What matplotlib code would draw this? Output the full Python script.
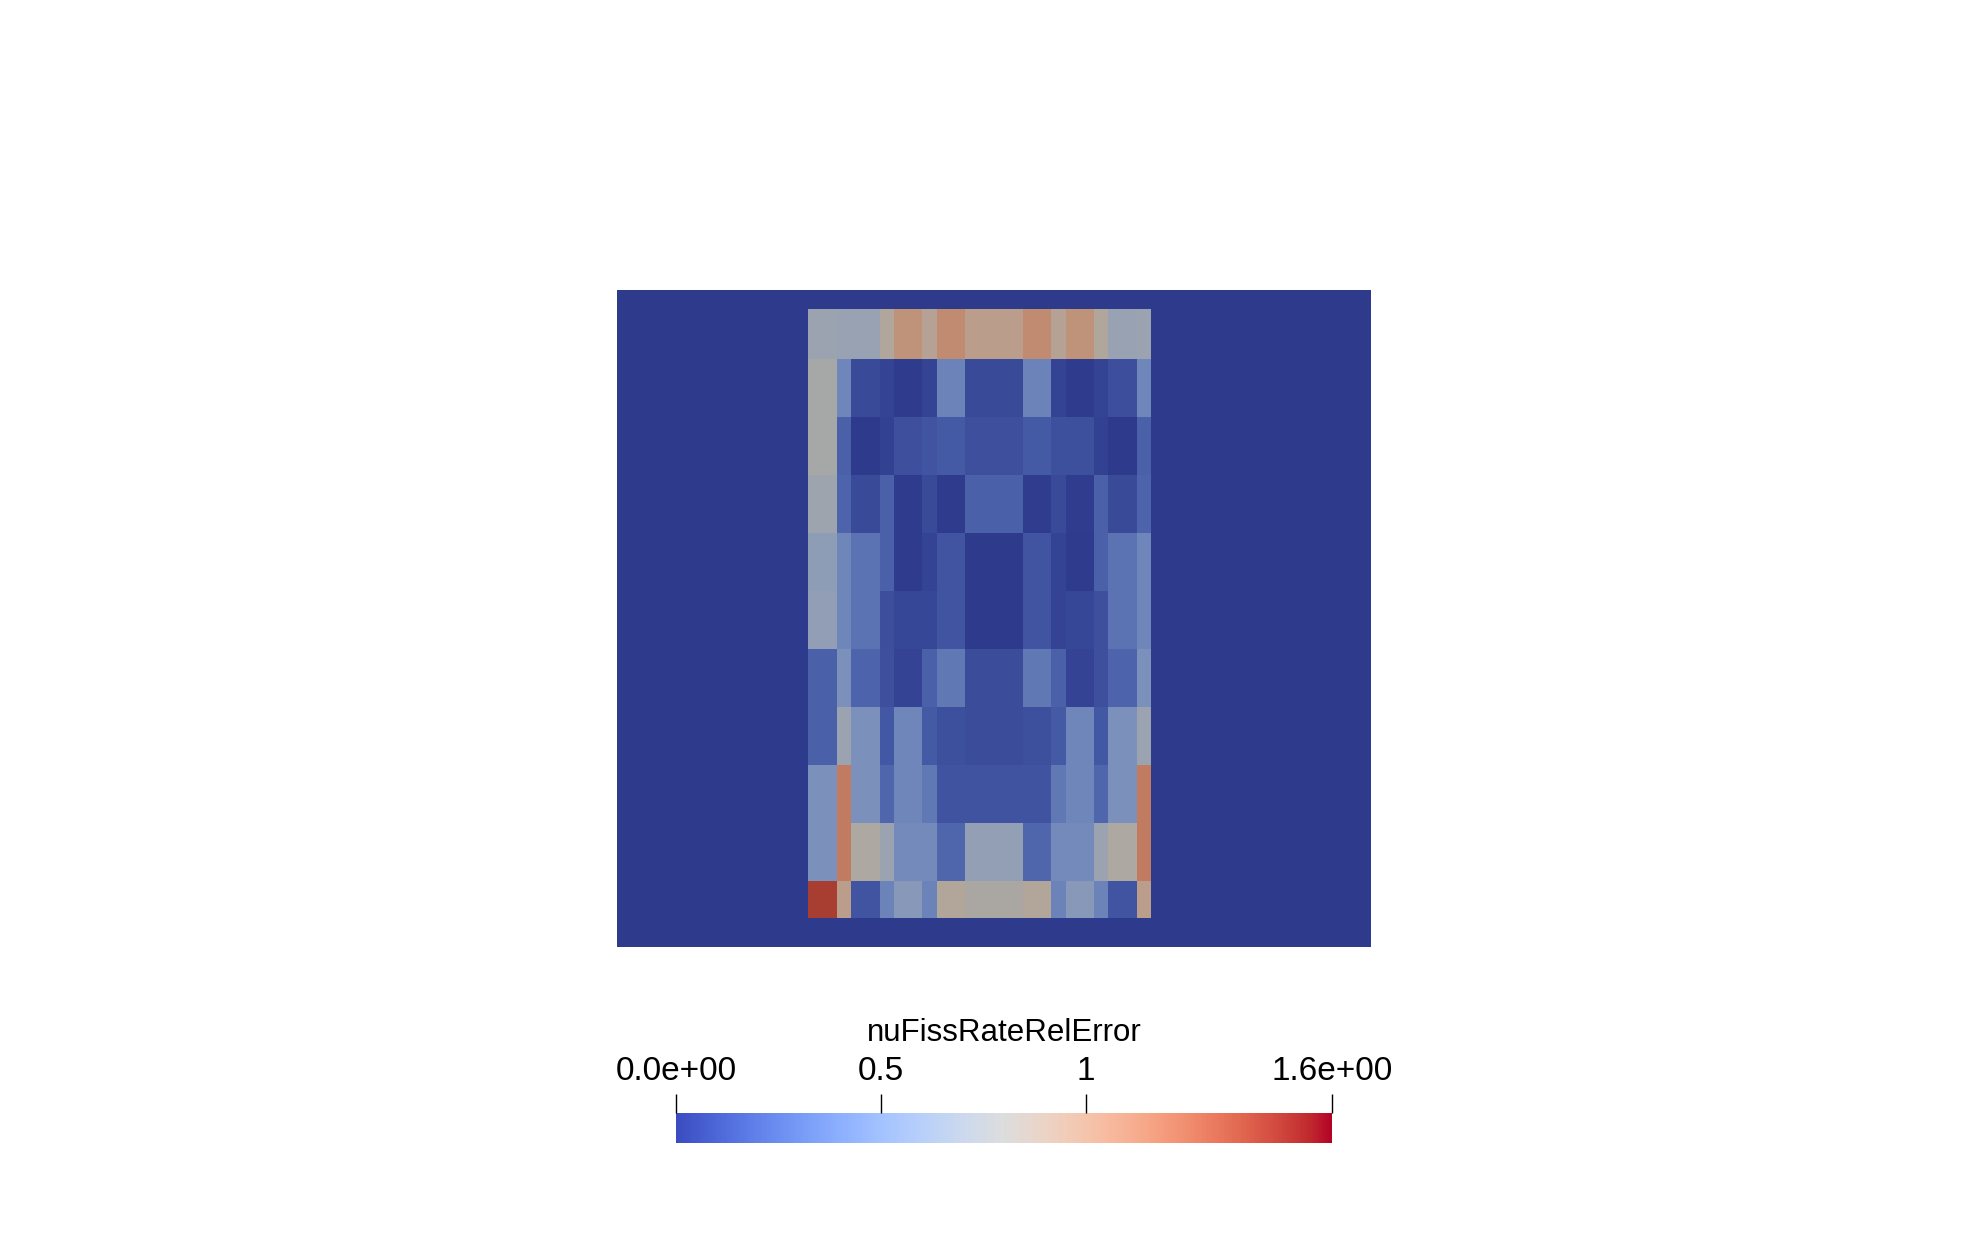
import numpy as np
import matplotlib
matplotlib.use("Agg")
import matplotlib.pyplot as plt
from matplotlib.colors import ListedColormap, Normalize
from matplotlib.cm import ScalarMappable

# ---------------- data ----------------
field_name = "nuFissRateRelError"
vmin, vmax = 0.0, 1.6
cbar_ticks = [0.0, 0.5, 1.0, 1.6]
cbar_labels = ["0.0e+00", "0.5", "1", "1.6e+00"]

# domain (model units) and core mesh edges
domain_x = [0.0, 754.0]
domain_y = [0.0, 657.0]
outer_value = 0.0
x_edges = [191, 220, 234, 263, 277, 305, 320, 348, 406, 434, 449, 477, 491, 520, 534]
y_edges = [19, 69, 127, 185, 243, 301, 359, 417, 475, 533, 591, 628]

# relative error per cell as fraction of the colour range (row 0 = top)
t_rows = [
    [0.42, 0.41, 0.41, 0.52, 0.64, 0.55, 0.67, 0.58, 0.67, 0.55, 0.64, 0.52, 0.41, 0.42],
    [0.47, 0.25, 0.05, 0.03, 0.005, 0.03, 0.24, 0.05, 0.24, 0.03, 0.005, 0.03, 0.06, 0.25],
    [0.47, 0.12, 0.00, 0.02, 0.065, 0.08, 0.10, 0.065, 0.10, 0.07, 0.07, 0.02, 0.00, 0.12],
    [0.43, 0.13, 0.05, 0.12, 0.005, 0.05, 0.005, 0.12, 0.01, 0.05, 0.01, 0.12, 0.05, 0.13],
    [0.37, 0.25, 0.18, 0.12, 0.005, 0.03, 0.08, 0.00, 0.08, 0.03, 0.005, 0.12, 0.18, 0.25],
    [0.38, 0.25, 0.18, 0.06, 0.04, 0.04, 0.08, 0.00, 0.08, 0.03, 0.04, 0.065, 0.18, 0.25],
    [0.12, 0.30, 0.13, 0.065, 0.03, 0.12, 0.20, 0.055, 0.20, 0.12, 0.03, 0.065, 0.13, 0.30],
    [0.12, 0.42, 0.30, 0.09, 0.25, 0.10, 0.07, 0.055, 0.07, 0.10, 0.25, 0.09, 0.30, 0.42],
    [0.30, 0.73, 0.30, 0.14, 0.25, 0.20, 0.075, 0.075, 0.075, 0.20, 0.25, 0.14, 0.30, 0.73],
    [0.30, 0.73, 0.50, 0.42, 0.27, 0.27, 0.14, 0.39, 0.14, 0.27, 0.27, 0.42, 0.50, 0.73],
    [0.90, 0.58, 0.08, 0.24, 0.34, 0.24, 0.53, 0.49, 0.53, 0.24, 0.34, 0.24, 0.08, 0.58],
]
values = np.array(t_rows) * vmax

# ---------------- figure ----------------
W, H = 1988, 1238
fig = plt.figure(figsize=(W / 100, H / 100), dpi=100)
fig.patch.set_facecolor("white")

base = plt.get_cmap("coolwarm")
shade = np.array([0.78, 0.76, 0.73])
lit = base(np.linspace(0, 1, 256))
lit[:, :3] = lit[:, :3] * shade
lit_cmap = ListedColormap(lit)
norm = Normalize(vmin, vmax)

# mesh axes placed at the render location
ax = fig.add_axes([617 / W, 1 - 947 / H, 754 / W, 657 / H])
ax.set_xlim(domain_x)
ax.set_ylim(domain_y[1], domain_y[0])
ax.axis("off")
ax.pcolormesh(domain_x, domain_y, np.array([[outer_value]]), cmap=lit_cmap, norm=norm)
ax.pcolormesh(x_edges, y_edges, values, cmap=lit_cmap, norm=norm)

# colorbar
cax = fig.add_axes([676 / W, 1 - 1143 / H, 656 / W, 30 / H])
cb = fig.colorbar(ScalarMappable(norm=norm, cmap=base), cax=cax, orientation="horizontal")
cb.outline.set_visible(False)
cax.xaxis.set_ticks_position("top")
cax.xaxis.set_label_position("top")
cb.set_ticks(cbar_ticks)
cb.set_ticklabels(cbar_labels)
cax.tick_params(axis="x", direction="out", length=14, width=1.0, color="black",
                pad=4.5, labelsize=24, labelcolor="black")
for lbl in cax.get_xticklabels():
    lbl.set_family(["Liberation Sans", "DejaVu Sans"])
fig.text(1004 / W, 1 - 1041 / H, field_name, ha="center", va="baseline",
         fontsize=22.5, family=["Liberation Sans", "DejaVu Sans"], color="black")

fig.savefig("out.png", dpi=100, facecolor="white")
